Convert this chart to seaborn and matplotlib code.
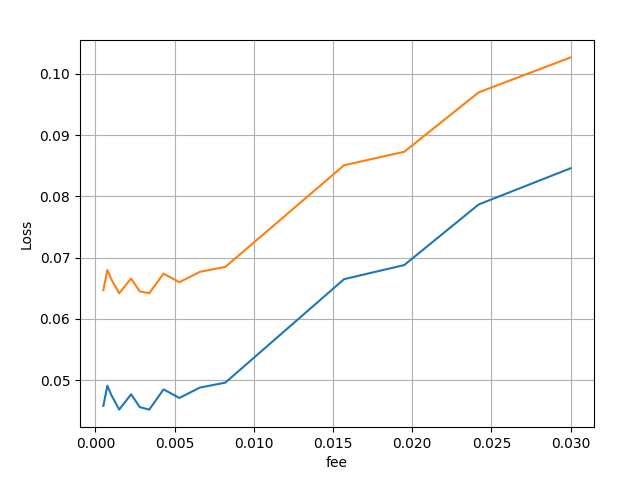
import pandas as pd
import matplotlib
matplotlib.use("Agg")
import matplotlib.pyplot as plt
import seaborn as sns

# valores
fee = [0.0005, 0.00075, 0.001, 0.0015, 0.00225, 0.0028, 0.0034, 0.0043,
       0.0053, 0.0066, 0.0082, 0.0157, 0.0195, 0.0242, 0.030]
loss_a = [0.0458, 0.0491, 0.0476, 0.0452, 0.0477, 0.0456, 0.0452, 0.0485,
          0.0471, 0.0488, 0.0496, 0.0665, 0.0688, 0.0787, 0.0846]
loss_b = [0.0647, 0.0680, 0.0665, 0.0642, 0.0666, 0.0645, 0.0642, 0.0674,
          0.0660, 0.0677, 0.0685, 0.0851, 0.0873, 0.0970, 0.1027]

df = pd.DataFrame({'fee': fee, 'a': loss_a, 'b': loss_b})

fig, ax = plt.subplots(figsize=(6.4, 4.8), dpi=100)
sns.lineplot(data=df, x='fee', y='a', ax=ax, color='tab:blue')
sns.lineplot(data=df, x='fee', y='b', ax=ax, color='tab:orange')
ax.set_xlabel('fee')
ax.set_ylabel('Loss')
ax.grid(True)
fig.subplots_adjust(left=0.125, right=0.928, top=0.917, bottom=0.11)
fig.savefig('out.png')
